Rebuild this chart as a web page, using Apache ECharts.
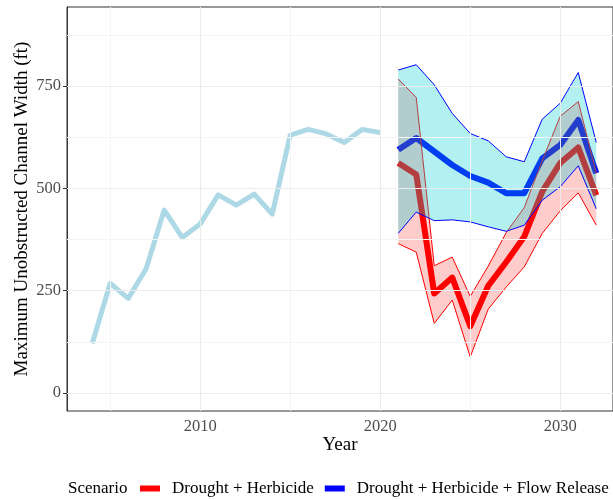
<!DOCTYPE html>
<html>
<head>
<meta charset="utf-8">
<script src="https://cdn.jsdelivr.net/npm/echarts@6/dist/echarts.min.js"></script>
<style>
  html, body { margin: 0; padding: 0; background: #fff; }
  #chart { width: 613px; height: 500px; }
</style>
</head>
<body>
<div id="chart"></div>
<script>
// observed history
const histYears = [2004, 2005, 2006, 2007, 2008, 2009, 2010, 2011, 2012, 2013, 2014, 2015, 2016, 2017, 2018, 2019, 2020]
const histWidth = [121, 268, 231, 304, 447, 380, 413, 484, 459, 486, 437, 630, 644, 633, 612, 644, 636]

// scenario projections
const scenYears = [2021, 2022, 2023, 2024, 2025, 2026, 2027, 2028, 2029, 2030, 2031, 2032]
const dhMedian = [562, 534, 243, 282, 163, 262, 320, 382, 492, 562, 600, 483]
const dhLow = [365, 344, 170, 227, 88, 205, 259, 308, 390, 445, 489, 410]
const dhHigh = [767, 722, 311, 332, 236, 310, 392, 453, 568, 676, 712, 538]
const fhMedian = [594, 623, 590, 557, 530, 514, 488, 488, 573, 606, 667, 537]
const fhLow = [390, 442, 421, 423, 418, 406, 395, 410, 471, 504, 555, 450]
const fhHigh = [789, 802, 753, 683, 634, 616, 577, 565, 669, 708, 783, 612]

// axis ticks and grid lines
const xTicks = [2010, 2020, 2030]
const xMinor = [2005, 2015, 2025]
const yTicks = [0, 250, 500, 750]
const yMinor = [125, 375, 625, 875]

const scenarioNames = ['Drought + Herbicide', 'Drought + Herbicide + Flow Release']

const FONT = 'Liberation Serif'
const chart = echarts.init(document.getElementById('chart'))

const pairs = (xs, ys) => xs.map((x, i) => [x, ys[i]])

const majorStyle = { color: '#EBEBEB', width: 1, type: 'solid' }
const minorStyle = { color: '#F4F4F4', width: 1, type: 'solid' }

const gridLines = [
  ...xMinor.map(v => ({ xAxis: v, lineStyle: minorStyle })),
  ...yMinor.map(v => ({ yAxis: v, lineStyle: minorStyle })),
  ...xTicks.map(v => ({ xAxis: v, lineStyle: majorStyle })),
  ...yTicks.map(v => ({ yAxis: v, lineStyle: majorStyle }))
]

const thickLine = (name, data, color) => ({
  name,
  type: 'line',
  data,
  showSymbol: false,
  z: 2,
  lineStyle: { color, width: 6, join: 'round' },
  itemStyle: { color },
  emphasis: { disabled: true }
})

// ribbon between lo and hi, with outlines
const band = (name, lo, hi, stroke, fill, z) => ({
  name,
  type: 'custom',
  z,
  silent: true,
  data: scenYears.map((y, i) => [y, lo[i], hi[i]]),
  encode: { x: 0, y: [1, 2] },
  renderItem: (params, api) => {
    if (params.dataIndex !== 0) return null
    const top = scenYears.map((y, i) => api.coord([y, hi[i]]))
    const bot = scenYears.map((y, i) => api.coord([y, lo[i]]))
    return {
      type: 'group',
      children: [
        { type: 'polygon', shape: { points: top.concat(bot.slice().reverse()) }, style: { fill, stroke: null } },
        { type: 'polyline', shape: { points: top }, style: { stroke, lineWidth: 1, fill: null, lineJoin: 'round' } },
        { type: 'polyline', shape: { points: bot }, style: { stroke, lineWidth: 1, fill: null, lineJoin: 'round' } }
      ]
    }
  }
})

const option = {
  animation: false,
  grid: {
    left: 67, top: 7, right: 0, bottom: 89,
    show: true, borderColor: '#333333', borderWidth: 1, backgroundColor: 'transparent'
  },
  title: {
    text: 'Scenario',
    left: 68, top: 480, padding: 0,
    textStyle: { fontFamily: FONT, fontSize: 17, fontWeight: 'normal', color: '#000' }
  },
  legend: {
    left: 140, top: 480, padding: 0, width: 700,
    itemWidth: 20, itemHeight: 6, itemGap: 11,
    selectedMode: false,
    textStyle: { fontFamily: FONT, fontSize: 17, color: '#000', padding: [0, 0, 0, 7] },
    data: [
      { name: scenarioNames[0], icon: 'rect', itemStyle: { color: '#FF0000' } },
      { name: scenarioNames[1], icon: 'rect', itemStyle: { color: '#0000FF' } }
    ]
  },
  xAxis: {
    type: 'value',
    min: 2002.6, max: 2032.93,
    name: 'Year', nameLocation: 'middle', nameGap: 25, nameMoveOverlap: false,
    nameTextStyle: { fontFamily: FONT, fontSize: 19, color: '#000' },
    axisLine: { show: true, lineStyle: { color: '#333333' } },
    axisTick: { show: true, length: 4, customValues: xTicks, lineStyle: { color: '#333333' } },
    axisLabel: {
      customValues: xTicks, formatter: v => String(v),
      fontFamily: FONT, fontSize: 16.5, color: '#4D4D4D', margin: 7
    },
    splitLine: { show: false }
  },
  yAxis: {
    type: 'value',
    min: -44, max: 943,
    name: 'Maximum Unobstructed Channel Width (ft)', nameLocation: 'middle', nameGap: 35, nameMoveOverlap: false,
    nameTextStyle: { fontFamily: FONT, fontSize: 19, color: '#000' },
    axisLine: { show: true, lineStyle: { color: '#333333' } },
    axisTick: { show: true, length: 4, customValues: yTicks, lineStyle: { color: '#333333' } },
    axisLabel: {
      customValues: yTicks, formatter: v => String(v),
      fontFamily: FONT, fontSize: 16.5, color: '#4D4D4D', margin: 6
    },
    splitLine: { show: false }
  },
  series: [
    {
      name: 'grid',
      type: 'line',
      data: [],
      silent: true,
      z: 1,
      markLine: {
        silent: true, animation: false, symbol: ['none', 'none'],
        label: { show: false }, emphasis: { disabled: true },
        data: gridLines
      }
    },
    {
      name: 'Observed',
      type: 'line',
      data: pairs(histYears, histWidth),
      showSymbol: false,
      z: 2,
      lineStyle: { color: '#ADD8E6', width: 5, join: 'round' },
      emphasis: { disabled: true }
    },
    thickLine(scenarioNames[0], pairs(scenYears, dhMedian), '#FF0000'),
    thickLine(scenarioNames[1], pairs(scenYears, fhMedian), '#0000FF'),
    band('dh_band', dhLow, dhHigh, '#FF0000', 'rgba(255,0,0,0.2)', 3),
    band('fh_band', fhLow, fhHigh, '#0000FF', 'rgba(0,206,209,0.3)', 4)
  ]
}

chart.setOption(option)
</script>
</body>
</html>
